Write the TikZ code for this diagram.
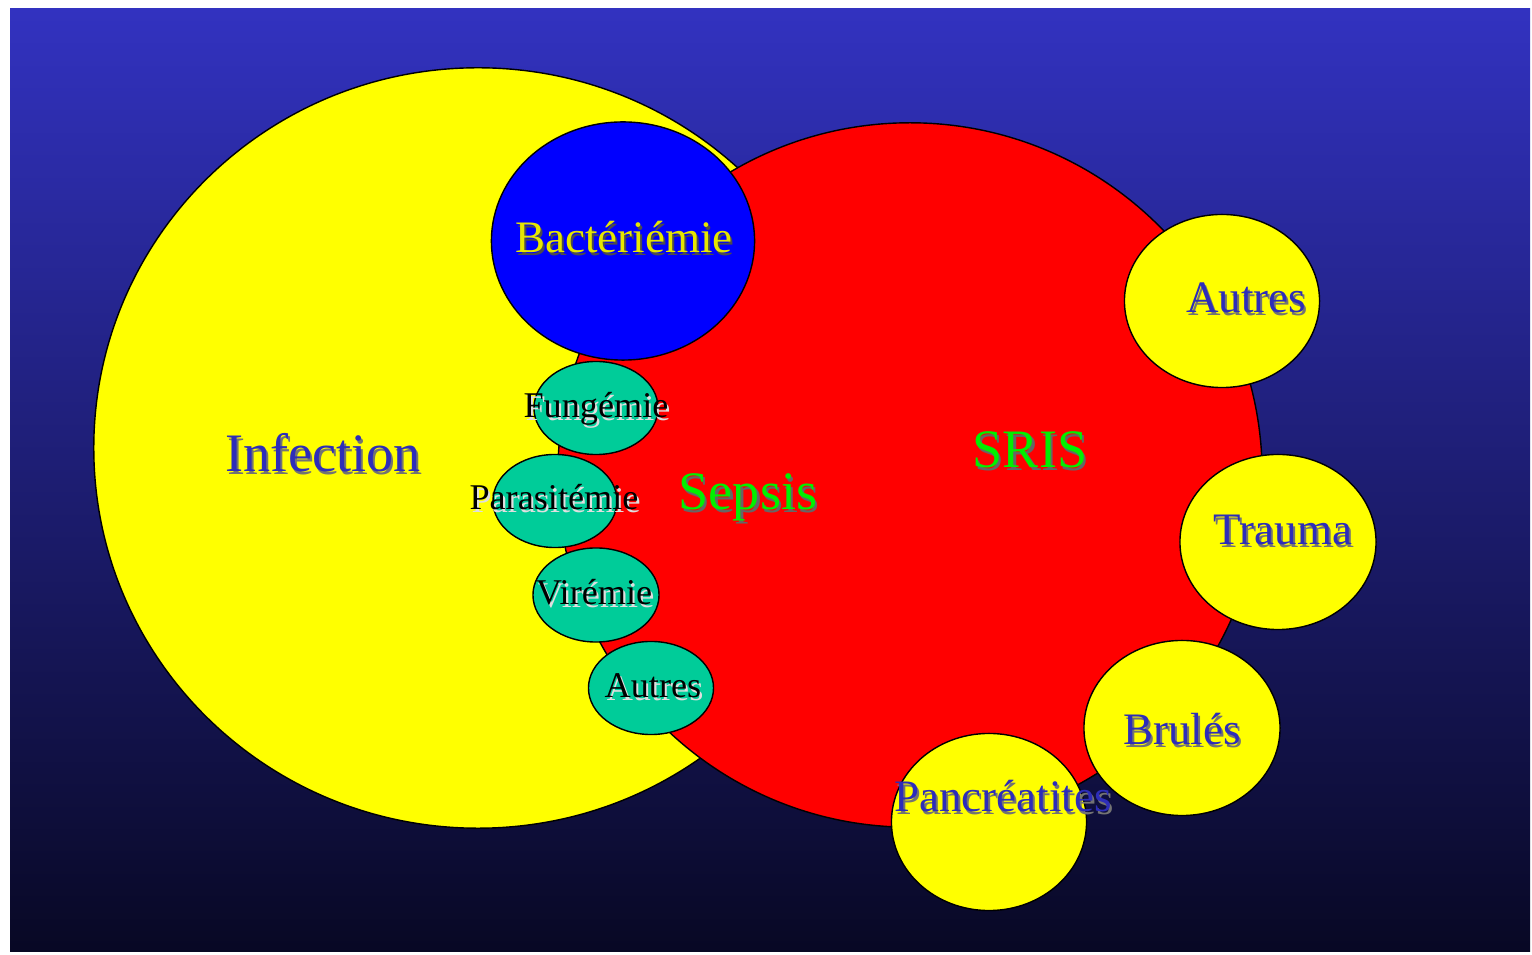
\documentclass[tikz,border=0pt]{standalone}
\usepackage{fontspec}
\setmainfont{Liberation Serif}
\usetikzlibrary{shapes.geometric}

\definecolor{bgtop}{RGB}{50,50,192}
\definecolor{bgbot}{RGB}{8,8,36}
\definecolor{sunyellow}{RGB}{255,255,0}
\definecolor{seagreen}{RGB}{0,204,153}
\definecolor{labelblue}{RGB}{45,45,185}
\definecolor{labelgreen}{RGB}{0,240,0}
\definecolor{labelyellow}{RGB}{230,230,0}

% text with a small drop shadow
\newcommand{\shtext}[3]{\makebox[0pt][l]{\kern0.6pt\raisebox{-0.6pt}{\textcolor{#2}{#3}}}\textcolor{#1}{#3}}

\tikzset{
  bubble/.style={ellipse,draw=black,line width=0.4pt,inner sep=0pt},
  bigtext/.style={anchor=base,inner sep=0pt,font=\fontsize{15.4}{18}\selectfont},
  midtext/.style={anchor=base,inner sep=0pt,font=\fontsize{12.8}{15}\selectfont},
  smalltext/.style={anchor=base,inner sep=0pt,font=\fontsize{10.3}{12}\selectfont}
}

\begin{document}
\begin{tikzpicture}[x=0.01cm,y=-0.01cm]
  \useasboundingbox (0,0) rectangle (1532,955);
  \fill[white] (0,0) rectangle (1532,955);
  \shade[top color=bgtop,bottom color=bgbot] (10,9) rectangle (1530,952);

  % big sets
  \node[bubble,fill=sunyellow,minimum width=76.8mm,minimum height=76mm] (infection) at (478,448) {};
  \node[bubble,fill=red,minimum width=70.4mm,minimum height=70.4mm] (sris) at (910,475) {};
  \node[bubble,fill=blue,minimum width=26.3mm,minimum height=23.8mm] (bact) at (623,241) {};

  % germs
  \node[bubble,fill=seagreen,minimum width=12.4mm,minimum height=9.3mm] (fung) at (596,408) {};
  \node[bubble,fill=seagreen,minimum width=12.4mm,minimum height=9.3mm] (para) at (555,501) {};
  \node[bubble,fill=seagreen,minimum width=12.6mm,minimum height=9.4mm] (vir) at (596,595) {};
  \node[bubble,fill=seagreen,minimum width=12.5mm,minimum height=9.3mm] (autresg) at (651,688) {};

  % other causes
  \node[bubble,fill=sunyellow,minimum width=19.5mm,minimum height=17.3mm] (autresy) at (1222,301) {};
  \node[bubble,fill=sunyellow,minimum width=19.6mm,minimum height=17.5mm] (trauma) at (1278,542) {};
  \node[bubble,fill=sunyellow,minimum width=19.6mm,minimum height=17.5mm] (brules) at (1182,728) {};
  \node[bubble,fill=sunyellow,minimum width=19.5mm,minimum height=17.7mm] (pancr) at (989,822) {};

  % labels
  \node[bigtext] (tinf) at (323,472) {\shtext{labelblue}{black!55}{Infection}};
  \node[bigtext] (tsris) at (1030,468) {\shtext{labelgreen}{black!60}{SRIS}};
  \node[bigtext] (tsep) at (748,510) {\shtext{labelgreen}{black!60}{Sepsis}};
  \node[midtext] (tbact) at (624,253) {\shtext{labelyellow}{black!70}{Bactériémie}};
  \node[midtext] (tautresy) at (1246,313) {\shtext{labelblue}{black!55}{Autres}};
  \node[midtext] (ttrauma) at (1283,545) {\shtext{labelblue}{black!55}{Trauma}};
  \node[midtext] (tbrules) at (1182,745) {\shtext{labelblue}{black!55}{Brulés}};
  \node[midtext] (tpancr) at (1003,812) {\shtext{labelblue}{black!55}{Pancréatites}};
  \node[smalltext] (tfung) at (596,418) {\shtext{black}{white!75!gray}{Fungémie}};
  \node[smalltext] (tpara) at (554,510) {\shtext{black}{white!75!gray}{Parasitémie}};
  \node[smalltext] (tvir) at (594,605) {\shtext{black}{white!75!gray}{Virémie}};
  \node[smalltext] (tautresg) at (653,698) {\shtext{black}{white!75!gray}{Autres}};
\end{tikzpicture}
\end{document}
